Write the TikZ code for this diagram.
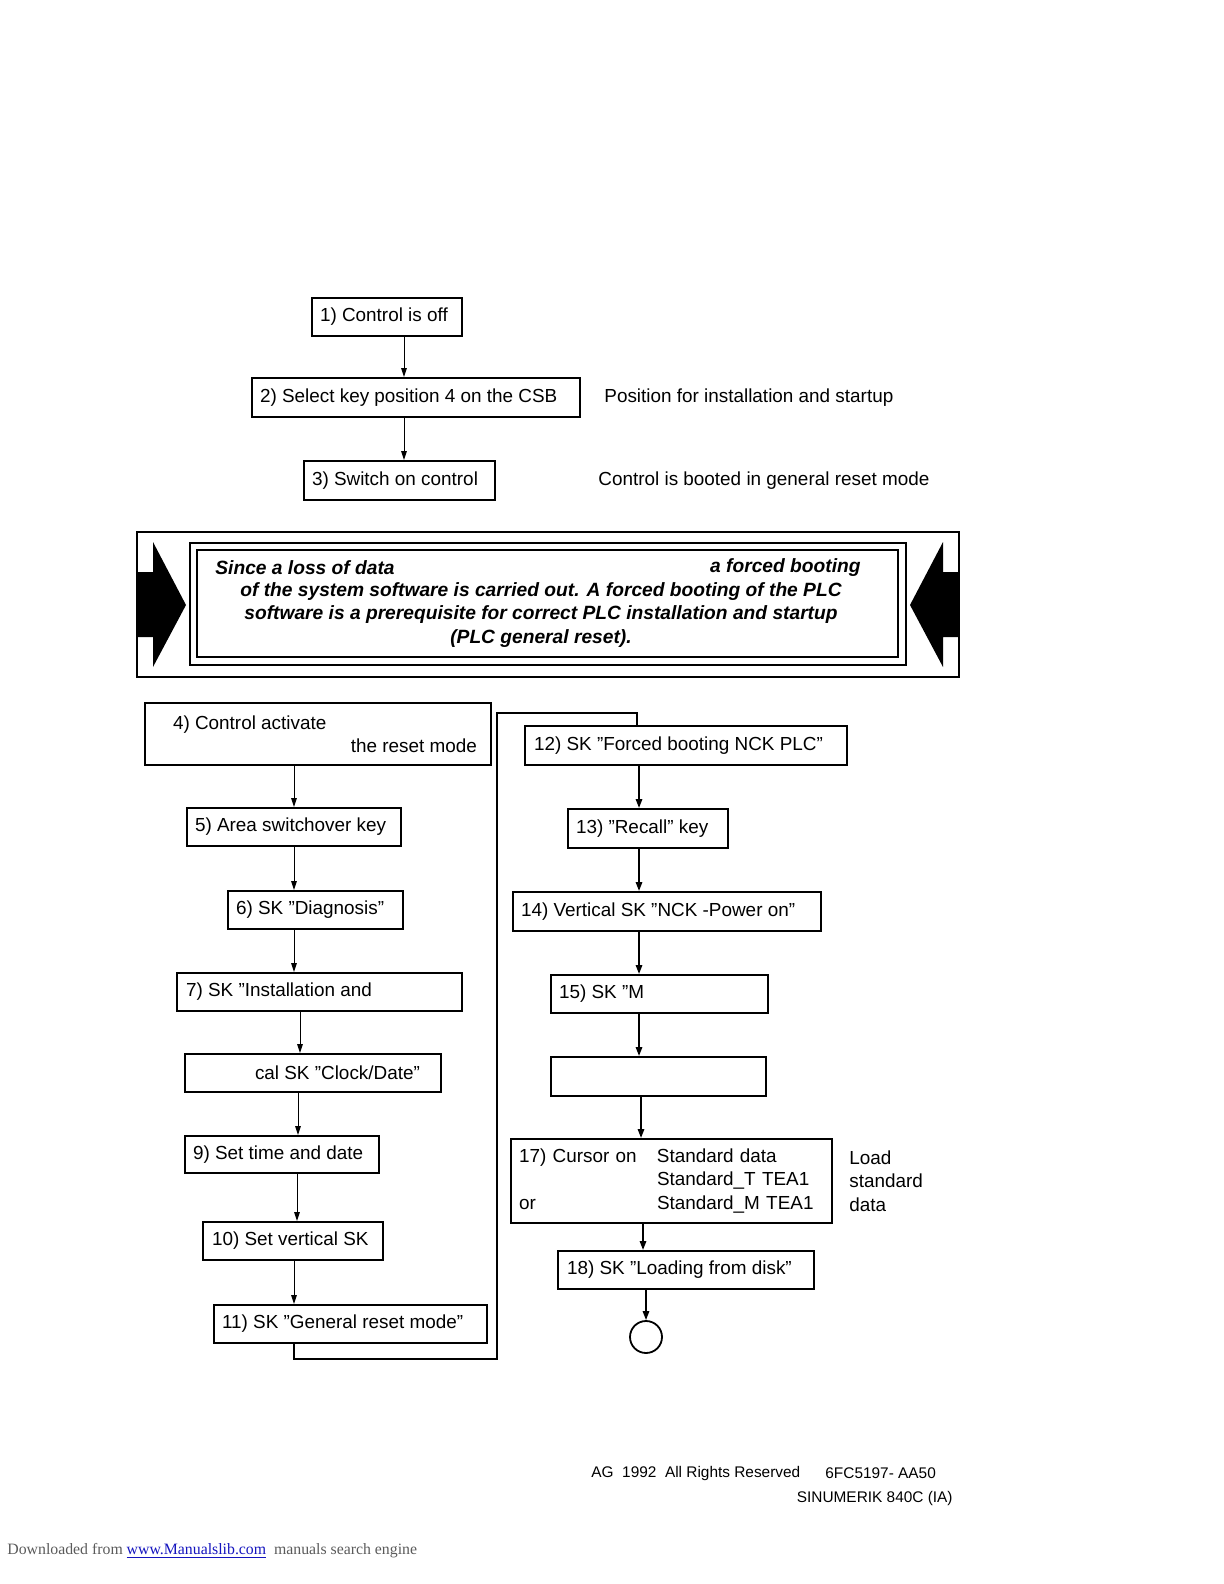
\documentclass[tikz,border=0pt]{standalone}
\usepackage{fontspec}
\setmainfont{Liberation Sans}
\newfontfamily\serifdl{Liberation Serif}
\usetikzlibrary{arrows.meta}
\definecolor{dlgray}{RGB}{90,90,90}
\definecolor{linkblue}{RGB}{20,20,190}
\newcommand{\lbx}[2]{\makebox[#1][l]{#2}}
\begin{document}
\begin{tikzpicture}[x=0.5pt,y=-0.5pt,
  every node/.style={font=\fontsize{9.45}{11.7}\selectfont},
  box/.style={draw,line width=1pt,inner ysep=0pt,inner xsep=4pt,align=left},
  thinarr/.style={line width=0.5pt,-{Triangle[length=4.5pt,width=2.8pt]}},
  thickarr/.style={line width=0.9pt,-{Triangle[length=4.5pt,width=3.2pt]}},
  plain/.style={inner sep=0pt},
  warnfont/.style={font=\fontsize{9.6}{11.65}\selectfont\bfseries\itshape},
  footfont/.style={font=\fontsize{7.7}{9}\selectfont},
]
\path[use as bounding box] (0,0) rectangle (1224,1584);

% top boxes
\node[box,minimum width=75pt,minimum height=19pt] (b1) at (387,317) {\lbx{67pt}{1) Control is off}};
\node[box,minimum width=164pt,minimum height=19.5pt] (b2) at (416,397.5) {\lbx{156pt}{2) Select key position 4 on the CSB}};
\node[box,minimum width=95.5pt,minimum height=19.5pt] (b3) at (399.5,480.5) {\lbx{87.5pt}{3) Switch on control}};
\node[plain,anchor=west] (n2) at (604,397.5) {Position for installation and startup};
\node[plain,anchor=west] (n3) at (598,480.5) {Control is booted in general reset mode};

\coordinate (xa) at (404,0);
\draw[thinarr] (b1.south -| xa) -- (b2.north -| xa);
\draw[thinarr] (b2.south -| xa) -- (b3.north -| xa);

% warning frame
\draw[line width=1pt] (137,532) rectangle (959,677);
\draw[line width=1pt] (190,543) rectangle (906,665);
\draw[line width=1pt] (197,550) rectangle (898,657);
\fill (137,572) -- (153,572) -- (153,542) -- (186,605) -- (153,667) -- (153,637) -- (137,637) -- cycle;
\fill (959,572) -- (943,572) -- (943,542) -- (910,605) -- (943,667) -- (943,637) -- (959,637) -- cycle;
\node[plain,warnfont,anchor=west] (w1a) at (215,568) {Since a loss of data};
\node[plain,warnfont,anchor=east] (w1b) at (861,568) {a forced booting};
\node[plain,warnfont,align=center] (w2) at (541,615) {of the system software is carried out. A forced booting of the PLC\\software is a prerequisite for correct PLC installation and startup\\(PLC general reset).};

% left column
\node[box,minimum width=173pt,minimum height=31pt,inner xsep=7pt,align=left] (b4) at (318,734) {\lbx{159pt}{\hspace*{7pt}4) Control activate}\\\makebox[159pt][r]{the reset mode}};
\node[box,minimum width=107pt,minimum height=19pt] (b5) at (294,827) {\lbx{99pt}{5) Area switchover key}};
\node[box,minimum width=87.5pt,minimum height=19pt] (b6) at (315.5,910) {\lbx{79.5pt}{6) SK ”Diagnosis”}};
\node[box,minimum width=142.5pt,minimum height=19pt,inner xsep=4.5pt] (b7) at (319.5,992) {\lbx{133.5pt}{7) SK ”Installation and}};
\node[box,minimum width=128pt,minimum height=19pt] (b8) at (313,1073) {\lbx{120pt}{\hspace*{31pt}cal SK ”Clock/Date”}};
\node[box,minimum width=97pt,minimum height=18.5pt] (b9) at (282,1154.5) {\lbx{89pt}{9) Set time and date}};
\node[box,minimum width=90pt,minimum height=19pt,inner xsep=4.5pt] (b10) at (293,1241) {\lbx{81pt}{10) Set vertical SK}};
\node[box,minimum width=136.5pt,minimum height=19pt] (b11) at (350.5,1324) {\lbx{128.5pt}{11) SK ”General reset mode”}};

\coordinate (xb) at (294,0);
\coordinate (xc) at (300,0);
\coordinate (xd) at (298,0);
\coordinate (xe) at (297,0);
\draw[thinarr] (b4.south -| xb) -- (b5.north -| xb);
\draw[thinarr] (b5.south -| xb) -- (b6.north -| xb);
\draw[thinarr] (b6.south -| xb) -- (b7.north -| xb);
\draw[thinarr] (b7.south -| xc) -- (b8.north -| xc);
\draw[thinarr] (b8.south -| xd) -- (b9.north -| xd);
\draw[thinarr] (b9.south -| xe) -- (b10.north -| xe);
\draw[thinarr] (b10.south -| xb) -- (b11.north -| xb);

% connector 11 -> 12
\coordinate (c1) at (294,1359);
\coordinate (c2) at (497,1359);
\coordinate (c3) at (497,713);
\coordinate (c4) at (637,713);

% right column
\node[box,minimum width=161pt,minimum height=19.5pt,inner xsep=4.5pt] (b12) at (686,745.5) {\lbx{152pt}{12) SK ”Forced booting NCK PLC”}};
\node[box,minimum width=80pt,minimum height=19.5pt] (b13) at (648,828.5) {\lbx{72pt}{13) ”Recall” key}};
\node[box,minimum width=154pt,minimum height=19.5pt] (b14) at (667,911.5) {\lbx{146pt}{14) Vertical SK ”NCK -Power on”}};
\node[box,minimum width=108.5pt,minimum height=19pt] (b15) at (659.5,994) {\lbx{100.5pt}{15) SK ”M}};
\node[box,minimum width=107.5pt,minimum height=19.5pt] (b16) at (658.5,1076.5) {};
\node[box,minimum width=160.5pt,minimum height=42pt,text width=152.5pt] (b17) at (671.5,1181) {\begin{tabular}{@{}p{69pt}@{}l@{}}17) Cursor on & Standard data\\ & Standard\_T TEA1\\ or & Standard\_M TEA1\end{tabular}};
\node[plain,align=left,anchor=west] (load) at (849,1181) {Load\\standard\\data};
\node[box,minimum width=128pt,minimum height=19pt,inner xsep=4.5pt] (b18) at (686,1270) {\lbx{119pt}{18) SK ”Loading from disk”}};
\node[draw,circle,line width=0.9pt,minimum size=16pt,inner sep=0pt] (end) at (646,1337) {};

\draw[line width=0.7pt] (b11.south -| c1) -- (c1) -- (c2) -- (c3) -- (c4) -- (b12.north -| c4);

\coordinate (xf) at (639,0);
\coordinate (xg) at (641,0);
\coordinate (xh) at (643,0);
\draw[thickarr] (b12.south -| xf) -- (b13.north -| xf);
\draw[thickarr] (b13.south -| xf) -- (b14.north -| xf);
\draw[thickarr] (b14.south -| xf) -- (b15.north -| xf);
\draw[thickarr] (b15.south -| xf) -- (b16.north -| xf);
\draw[thickarr] (b16.south -| xg) -- (b17.north -| xg);
\draw[thickarr] (b17.south -| xh) -- (b18.north -| xh);
\draw[thickarr] (b18.south -| end) -- (end.north);

% footer
\node[plain,footfont,anchor=west] (f1) at (591,1473) {AG~~1992~~All Rights Reserved};
\node[plain,footfont,anchor=west] (f2) at (825,1473) {6FC5197- AA50};
\node[plain,footfont,anchor=east] (f3) at (953,1498) {SINUMERIK 840C (IA)};
\node[plain,anchor=west,font=\serifdl\fontsize{7.9}{9}\selectfont,text=dlgray] (dl) at (7,1551) {Downloaded from \textcolor{linkblue}{\underline{www.Manualslib.com}}~ manuals search engine};
\end{tikzpicture}
\end{document}
